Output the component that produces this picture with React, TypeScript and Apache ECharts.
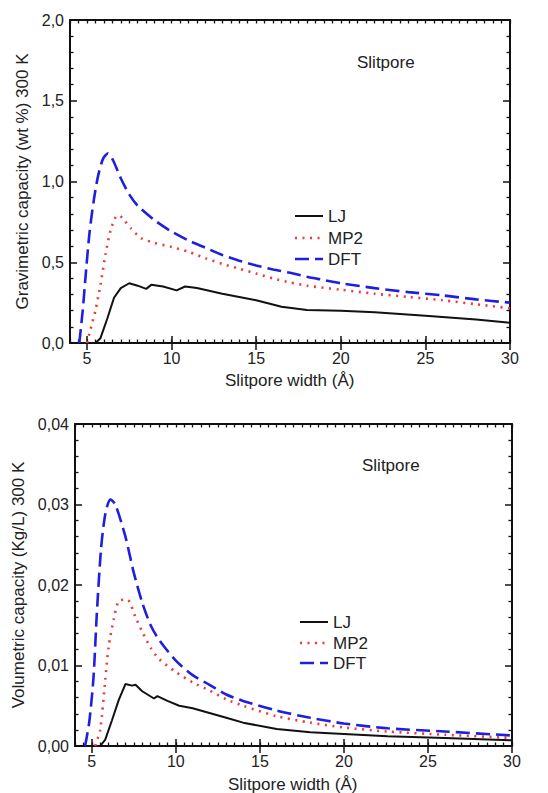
import React, { useEffect, useRef } from "react";
import * as echarts from "echarts";

const FONT = "Liberation Sans";

const X_MIN = 4;
const X_MAX = 30;
const MAJOR_X = [5, 10, 15, 20, 25, 30];
const LEGEND_NAMES = ["LJ", "MP2", "DFT"];
const SERIES_COLORS = ["#111111", "#f03a3a", "#1f1fe0"];

// Gravimetric capacity (wt %) vs slitpore width (Å)
const gravLJ = [
  [5.5, 0], [5.8, 0.03], [6.2, 0.15], [6.6, 0.28], [7.0, 0.34], [7.5, 0.37],
  [8.0, 0.355], [8.5, 0.335], [8.8, 0.36], [9.5, 0.35], [10.3, 0.326], [10.8, 0.35],
  [11.5, 0.34], [13, 0.305], [14, 0.285], [15, 0.265], [16.5, 0.225], [18, 0.205],
  [20, 0.2], [22, 0.19], [25, 0.168], [28, 0.145], [30, 0.125],
];
const gravMP2 = [
  [5.0, 0], [5.2, 0.08], [5.5, 0.2], [5.8, 0.36], [6.1, 0.55], [6.4, 0.7],
  [6.7, 0.78], [6.9, 0.79], [7.2, 0.76], [7.6, 0.71], [8.2, 0.65], [9.0, 0.62],
  [10, 0.595], [11, 0.565], [12, 0.525], [13, 0.49], [14, 0.46], [15, 0.43],
  [16, 0.4], [17, 0.375], [18, 0.355], [20, 0.33], [22, 0.305], [24, 0.285],
  [26, 0.265], [28, 0.24], [30, 0.215],
];
const gravDFT = [
  [4.55, 0], [4.75, 0.2], [4.95, 0.45], [5.15, 0.68], [5.4, 0.88], [5.65, 1.03],
  [5.95, 1.14], [6.25, 1.175], [6.55, 1.13], [7.0, 1.02], [7.5, 0.92], [8.0, 0.85],
  [9.0, 0.76], [10, 0.69], [11, 0.635], [12, 0.59], [13, 0.545], [14, 0.51],
  [15, 0.48], [16, 0.455], [17, 0.435], [18, 0.41], [19, 0.39], [20, 0.37],
  [22, 0.34], [24, 0.315], [26, 0.295], [28, 0.27], [30, 0.25],
];

// Volumetric capacity (Kg/L) vs slitpore width (Å)
const volLJ = [
  [5.5, 0], [5.8, 0.0008], [6.2, 0.0032], [6.6, 0.0057], [7.0, 0.0077], [7.4, 0.0075],
  [7.6, 0.0076], [8.0, 0.0068], [8.7, 0.0059], [8.9, 0.0062], [9.5, 0.0056], [10.2, 0.005],
  [11, 0.0047], [12, 0.0041], [13, 0.0035], [14, 0.0029], [16, 0.0021], [18, 0.0017],
  [20, 0.0015], [22.6, 0.0012], [26, 0.001], [30, 0.0007],
];
const volMP2 = [
  [5.2, 0], [5.5, 0.002], [5.8, 0.0082], [6.0, 0.0123], [6.3, 0.0157], [6.6, 0.018],
  [7.1, 0.0182], [7.6, 0.016], [8.0, 0.0142], [8.5, 0.0122], [9, 0.0108], [10, 0.0092],
  [11, 0.0079], [12, 0.0069], [13, 0.0058], [14, 0.005], [16, 0.0037], [18, 0.0029],
  [20, 0.0023], [22.6, 0.0018], [26, 0.0014], [30, 0.001],
];
const volDFT = [
  [4.6, 0], [4.85, 0.003], [5.1, 0.0085], [5.3, 0.0165], [5.55, 0.0245], [5.8, 0.0288],
  [6.1, 0.0306], [6.4, 0.03], [7.0, 0.026], [7.5, 0.0215], [8.0, 0.0178], [8.5, 0.015],
  [9, 0.0132], [10, 0.0106], [11, 0.0088], [12, 0.0076], [13, 0.0064], [14, 0.0056],
  [16, 0.0044], [18, 0.0035], [20, 0.0028], [22.6, 0.0022], [26, 0.0018], [30, 0.0013],
];

const AX = "#111";
const TXT = "#222";
const LINE_DASH: (number[] | null)[] = [null, [2, 5.5], [14, 6]];
const LINE_WIDTH = [2, 2.6, 2.6];

function xAxesFor(gridIndex: number) {
  const minor = (position: string) => ({
    type: "value", gridIndex, position, min: X_MIN, max: X_MAX, interval: 0.5,
    axisLine: { show: true, onZero: false, lineStyle: { color: AX, width: 2 } },
    axisTick: { show: true, inside: true, length: 3.5, lineStyle: { color: AX, width: 1.3 } },
    axisLabel: { show: false }, splitLine: { show: false },
  });
  const major = (position: string, labels: boolean) => ({
    type: "value", gridIndex, position, min: X_MIN, max: X_MAX,
    axisLine: { show: false },
    axisTick: { show: true, inside: true, length: 7, customValues: MAJOR_X, lineStyle: { color: AX, width: 1.5 } },
    axisLabel: labels
      ? { show: true, customValues: MAJOR_X, fontSize: 16, color: TXT, margin: 7, fontFamily: FONT }
      : { show: false },
    splitLine: { show: false },
  });
  return [minor("bottom"), major("bottom", true), minor("top"), major("top", false)];
}

function yAxesFor(gridIndex: number, max: number, interval: number, digits: number, name: string, nameGap: number) {
  const base = (position: string, labels: boolean) => ({
    type: "value", gridIndex, position, min: 0, max, interval,
    axisLine: { show: true, onZero: false, lineStyle: { color: AX, width: 2 } },
    axisTick: { show: true, inside: true, length: 7, lineStyle: { color: AX, width: 1.5 } },
    minorTick: { show: true, splitNumber: 5, length: 3.5, lineStyle: { color: AX, width: 1.3 } },
    axisLabel: labels
      ? {
          show: true, fontSize: 16, color: TXT, margin: 6, fontFamily: FONT,
          formatter: (v: number) => v.toFixed(digits).replace(".", ","),
        }
      : { show: false },
    splitLine: { show: false },
    ...(labels
      ? {
          name, nameLocation: "middle", nameGap, nameRotate: 90,
          nameTextStyle: { fontSize: 17, color: TXT, fontFamily: FONT },
        }
      : {}),
  });
  return [base("left", true), base("right", false)];
}

function seriesFor(xAxisIndex: number, yAxisIndex: number, sets: number[][][]) {
  return sets.map((data, i) => ({
    type: "line", xAxisIndex, yAxisIndex, symbol: "none", showSymbol: false,
    smooth: i === 0 ? false : 0.25,
    data,
    itemStyle: { color: SERIES_COLORS[i] },
    lineStyle: { color: SERIES_COLORS[i], width: LINE_WIDTH[i], type: LINE_DASH[i] || "solid" },
  }));
}

// legend drawn as graphic: sample line + label
function legendGraphic(left: number, rows: number[]) {
  const els: any[] = [];
  LEGEND_NAMES.forEach((name, i) => {
    const y = rows[i];
    els.push({
      type: "line",
      shape: { x1: left, y1: y, x2: left + 28, y2: y },
      style: { stroke: SERIES_COLORS[i], lineWidth: LINE_WIDTH[i], lineDash: LINE_DASH[i] || null },
    });
    els.push({
      type: "text", x: left + 33, y,
      style: { text: name, fontSize: 17, fontFamily: FONT, fill: TXT, verticalAlign: "middle", textVerticalAlign: "middle" },
    });
  });
  return els;
}

function textAt(text: string, left: number, top: number) {
  return {
    text, left, top, padding: 0,
    textStyle: { fontSize: 17, fontWeight: "normal", color: TXT, fontFamily: FONT },
  };
}

export default function App() {
  const ref = useRef<HTMLDivElement>(null);
  useEffect(() => {
    document.body.style.margin = "0";
    if (!ref.current) return;
    const chart = echarts.init(ref.current, null, { renderer: "svg" });
    chart.setOption({
      animation: false,
      title: [
        textAt("Slitpore", 357, 54),
        textAt("Slitpore", 362, 457),
        textAt("Slitpore width (Å)", 225, 372),
        textAt("Slitpore width (Å)", 228, 776),
      ],
      grid: [
        { left: 70, top: 20, width: 440, height: 323 },
        { left: 75, top: 424, width: 437, height: 322 },
      ],
      xAxis: [...xAxesFor(0), ...xAxesFor(1)],
      yAxis: [
        ...yAxesFor(0, 2, 0.5, 1, "Gravimetric capacity (wt %) 300 K", 33),
        ...yAxesFor(1, 0.04, 0.01, 2, "Volumetric capacity (Kg/L) 300 K", 45),
      ],
      graphic: [
        ...legendGraphic(295, [216, 238, 259]),
        ...legendGraphic(300, [622, 643, 663]),
      ],
      series: [
        ...seriesFor(0, 0, [gravLJ, gravMP2, gravDFT]),
        ...seriesFor(4, 2, [volLJ, volMP2, volDFT]),
      ],
    });
    return () => chart.dispose();
  }, []);
  return <div ref={ref} style={{ width: 548, height: 793 }} />;
}
